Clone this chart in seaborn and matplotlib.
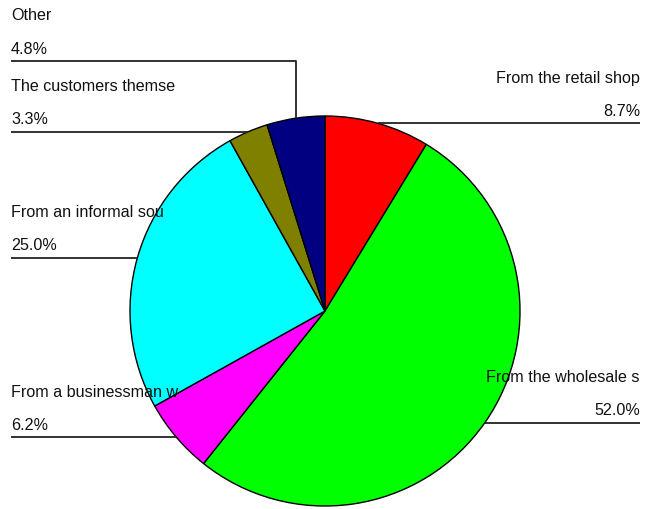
import numpy as np
import matplotlib
matplotlib.use("Agg")
import matplotlib.pyplot as plt
import seaborn as sns

# Where the goods come from (share of respondents, %)
categories = [
    "From the retail shop",
    "From the wholesale s",
    "From a businessman w",
    "From an informal sou",
    "The customers themse",
    "Other",
]
shares = [8.7, 52.0, 6.2, 25.0, 3.3, 4.8]
colors = ["#FF0000", "#00FF00", "#FF00FF", "#00FFFF", "#808000", "#000080"]

sns.set_theme(style="white")
plt.rcParams["font.family"] = ["Liberation Sans", "DejaVu Sans"]

W, H = 647, 510
fig = plt.figure(figsize=(W / 100, H / 100), dpi=100)
ax = fig.add_axes([0, 0, 1, 1])

cx, cy, r = 325, H - 312, 195
wedges, _ = ax.pie(
    shares, colors=colors, startangle=90, counterclock=False,
    center=(cx, cy), radius=r,
    wedgeprops=dict(edgecolor="black", linewidth=1.0),
)
ax.set_xlim(0, W)
ax.set_ylim(0, H)
ax.set_aspect("equal")
ax.axis("off")

# label side and optional raised leader height (pixel row from top)
sides = ["right", "right", "left", "left", "left", "left"]
raised = {5: 62}

fs = 11.6
for i, (w, name, val) in enumerate(zip(wedges, categories, shares)):
    mid = np.deg2rad((w.theta1 + w.theta2) / 2)
    px = cx + r * np.cos(mid)
    py = cy + r * np.sin(mid)
    ly = H - raised[i] if i in raised else py
    if sides[i] == "right":
        x0, x1, tx, ha = px, 640, 640, "right"
    else:
        x0, x1, tx, ha = 11, px, 11, "left"
    ax.plot([x0, x1], [ly, ly], color="#222222", lw=1.3, solid_capstyle="butt")
    if i in raised:
        ax.plot([px, px], [ly, py], color="#222222", lw=1.3)
    ax.text(tx, ly + 46, name, ha=ha, va="center", fontsize=fs, color="#111111")
    ax.text(tx, ly + 13, f"{val:.1f}%", ha=ha, va="center", fontsize=fs, color="#111111")

fig.savefig("out.png", dpi=100, facecolor="white")
